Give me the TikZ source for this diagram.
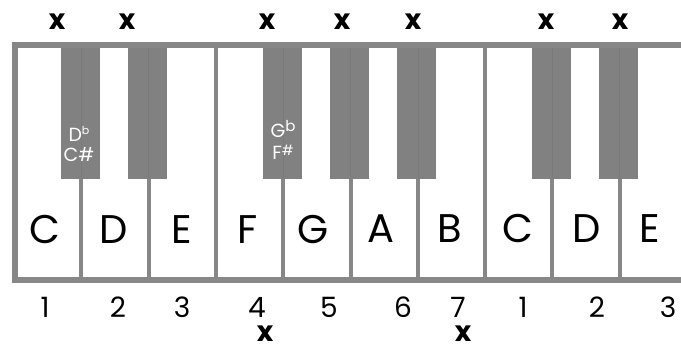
\documentclass[tikz,border=0pt]{standalone}
\usepackage{fontspec}
\setmainfont{Poppins}
\definecolor{framegray}{HTML}{878787}
\definecolor{keygray}{HTML}{818181}
\definecolor{seamgray}{HTML}{7A7A7A}
\tikzset{
  frameline/.style={draw=framegray, line width=6pt},
  divider/.style={draw=framegray, line width=4pt},
  blackkey/.style={fill=keygray},
  seam/.style={draw=seamgray, line width=0.6pt},
  notename/.style={font=\fontsize{40}{42}\selectfont, text=black, inner sep=0pt},
  degree/.style={font=\fontsize{28}{30}\selectfont, text=black, inner sep=0pt},
  xmark/.style={font=\bfseries\fontsize{28}{30}\selectfont, text=black, inner sep=0pt, text depth=0pt},
  acc/.style={font=\fontsize{19}{21}\selectfont, text=white, inner sep=0pt}
}
\begin{document}
\begin{tikzpicture}[x=1pt,y=-1pt]
\useasboundingbox (0,0) rectangle (681,352);
\fill[white] (0,0) rectangle (681,352);
% frame
\draw[frameline] (681,45) -- (14.5,45) -- (14.5,280) -- (681,280);
% dividers between white keys
\foreach \k in {1,...,9} {
  \draw[divider] ({14+67.3*\k},45) -- ({14+67.3*\k},280);
}
% black keys
\foreach \k in {1,2,4,5,6,8,9} {
  \fill[blackkey] ({14+67.3*\k-20.5},48) rectangle ({14+67.3*\k+18.5},179);
  \draw[seam] ({14+67.3*\k},48) -- ({14+67.3*\k},179);
}
% accidentals
\node[acc] (db) at (79,134) {D\raisebox{0.4em}{\fontsize{11}{11}\selectfont b}};
\node[acc] (cs) at (79,155) {C\#};
\node[acc] (gb) at (283,129) {G\raisebox{0.35em}{\fontsize{15}{15}\selectfont b}};
\node[acc] (fs) at (283,152) {F\raisebox{0.2em}{\fontsize{14}{14}\selectfont\#}};
% note names
\node[notename] (nC1) at (45,230) {C};
\node[notename] (nD1) at (114,230) {D};
\node[notename] (nE1) at (182,230) {E};
\node[notename] (nF)  at (248,230) {F};
\node[notename] (nG)  at (313,230) {G};
\node[notename] (nA)  at (381,229) {A};
\node[notename] (nB)  at (450,229) {B};
\node[notename] (nC2) at (518,229) {C};
\node[notename] (nD2) at (587,229) {D};
\node[notename] (nE2) at (650,229) {E};
% scale degrees
\node[degree] (d1a) at (45,307) {1};
\node[degree] (d2a) at (118,307) {2};
\node[degree] (d3a) at (182,307) {3};
\node[degree] (d4)  at (257,307) {4};
\node[degree] (d5)  at (329,307) {5};
\node[degree] (d6)  at (403,307) {6};
\node[degree] (d7)  at (458,307) {7};
\node[degree] (d1b) at (523,307) {1};
\node[degree] (d2b) at (597,307) {2};
\node[degree] (d3b) at (668,307) {3};
% x marks top
\node[xmark] (x1) at (57,22) {x};
\node[xmark] (x2) at (127,22) {x};
\node[xmark] (x3) at (267,22) {x};
\node[xmark] (x4) at (342,22) {x};
\node[xmark] (x5) at (413,22) {x};
\node[xmark] (x6) at (546,22) {x};
\node[xmark] (x7) at (620,22) {x};
% x marks bottom
\node[xmark] (x8) at (265,334) {x};
\node[xmark] (x9) at (463,334) {x};
\end{tikzpicture}
\end{document}
